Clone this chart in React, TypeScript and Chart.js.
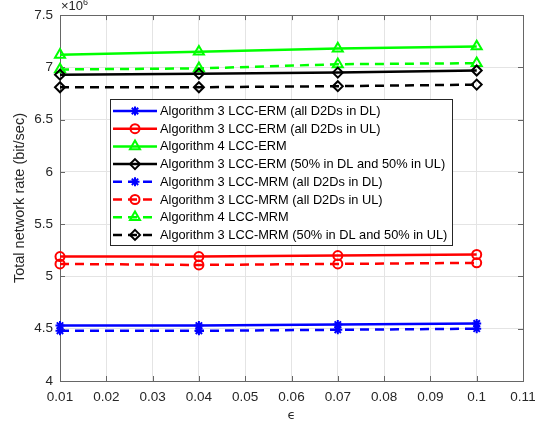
import React, { useEffect, useRef } from 'react';
import { Chart, registerables } from 'chart.js';

Chart.register(...registerables);

const FONT = '"Liberation Sans", Arial, Helvetica, sans-serif';

// epsilon values (x axis)
const EPSILON = [0.01, 0.04, 0.07, 0.1];
// total network rate, in units of 10^6 bit/sec
const Y_EXPONENT = 6;
const ALG3_ERM_DL = [4.53, 4.53, 4.54, 4.55];
const ALG3_ERM_UL = [5.19, 5.19, 5.2, 5.21];
const ALG4_ERM = [7.12, 7.15, 7.18, 7.2];
const ALG3_ERM_MIX = [6.93, 6.94, 6.95, 6.97];
const ALG3_MRM_DL = [4.48, 4.48, 4.49, 4.5];
const ALG3_MRM_UL = [5.12, 5.11, 5.12, 5.13];
const ALG4_MRM = [6.98, 6.99, 7.03, 7.04];
const ALG3_MRM_MIX = [6.81, 6.81, 6.82, 6.835];

const LABELS = [
  'Algorithm 3 LCC-ERM (all D2Ds in DL)',
  'Algorithm 3 LCC-ERM (all D2Ds in UL)',
  'Algorithm 4 LCC-ERM',
  'Algorithm 3 LCC-ERM (50% in DL and 50% in UL)',
  'Algorithm 3 LCC-MRM (all D2Ds in DL)',
  'Algorithm 3 LCC-MRM (all D2Ds in UL)',
  'Algorithm 4 LCC-MRM',
  'Algorithm 3 LCC-MRM (50% in DL and 50% in UL)',
];
const SERIES = [
  ALG3_ERM_DL, ALG3_ERM_UL, ALG4_ERM, ALG3_ERM_MIX,
  ALG3_MRM_DL, ALG3_MRM_UL, ALG4_MRM, ALG3_MRM_MIX,
];
const COLORS = ['#0000ff', '#ff0000', '#00ff00', '#000000', '#0000ff', '#ff0000', '#00ff00', '#000000'];
const MARKERS = ['star', 'circle', 'triangle', 'rectRot', 'star', 'circle', 'triangle', 'rectRot'];
const MARKER_SIZE: Record<string, number> = { star: 4.5, circle: 4.5, triangle: 5.8, rectRot: 5 };
const DASHED = [false, false, false, false, true, true, true, true];

function drawMarker(ctx: CanvasRenderingContext2D, style: string, x: number, y: number, r: number) {
  ctx.beginPath();
  if (style === 'circle') {
    ctx.arc(x, y, r, 0, Math.PI * 2);
  } else if (style === 'triangle') {
    for (let i = 0; i < 3; i++) {
      const a = (i * 2 * Math.PI) / 3;
      const px = x + Math.sin(a) * r;
      const py = y - Math.cos(a) * r;
      if (i === 0) ctx.moveTo(px, py);
      else ctx.lineTo(px, py);
    }
    ctx.closePath();
  } else if (style === 'rectRot') {
    ctx.moveTo(x, y - r);
    ctx.lineTo(x + r, y);
    ctx.lineTo(x, y + r);
    ctx.lineTo(x - r, y);
    ctx.closePath();
  } else if (style === 'star') {
    const d = Math.cos(Math.PI / 4) * r;
    ctx.moveTo(x, y - r); ctx.lineTo(x, y + r);
    ctx.moveTo(x - r, y); ctx.lineTo(x + r, y);
    ctx.moveTo(x - d, y - d); ctx.lineTo(x + d, y + d);
    ctx.moveTo(x - d, y + d); ctx.lineTo(x + d, y - d);
  }
  ctx.stroke();
}

const axesBoxPlugin = {
  id: 'axesBox',
  beforeDatasetsDraw(chart: any) {
    const { ctx, chartArea } = chart;
    const { left, right, top, bottom } = chartArea;
    const xs = chart.scales.x;
    const ys = chart.scales.y;
    const tl = 5;
    ctx.save();
    ctx.strokeStyle = '#666666';
    ctx.lineWidth = 1;
    ctx.setLineDash([]);
    ctx.strokeRect(Math.round(left) + 0.5, Math.round(top) + 0.5, Math.round(right - left), Math.round(bottom - top));
    ctx.beginPath();
    xs.ticks.forEach((t: any) => {
      const px = Math.round(xs.getPixelForValue(t.value)) + 0.5;
      ctx.moveTo(px, bottom); ctx.lineTo(px, bottom - tl);
      ctx.moveTo(px, top); ctx.lineTo(px, top + tl);
    });
    ys.ticks.forEach((t: any) => {
      const py = Math.round(ys.getPixelForValue(t.value)) + 0.5;
      ctx.moveTo(left, py); ctx.lineTo(left + tl, py);
      ctx.moveTo(right, py); ctx.lineTo(right - tl, py);
    });
    ctx.stroke();
    ctx.restore();
  },
  afterDraw(chart: any) {
    const { ctx, chartArea } = chart;
    ctx.save();
    ctx.fillStyle = '#262626';
    ctx.textAlign = 'left';
    ctx.textBaseline = 'alphabetic';
    ctx.font = `13px ${FONT}`;
    const base = '\u00d710';
    ctx.fillText(base, chartArea.left + 1, chartArea.top - 5);
    const w = ctx.measureText(base).width;
    ctx.font = `9px ${FONT}`;
    ctx.fillText(String(Y_EXPONENT), chartArea.left + 1 + w, chartArea.top - 10);
    ctx.restore();
  },
};

const boxLegendPlugin = {
  id: 'boxLegend',
  afterDatasetsDraw(chart: any) {
    const { ctx, chartArea } = chart;
    const x0 = Math.round(chartArea.left + 50);
    const y0 = Math.round(chartArea.top + 84);
    const w = 342;
    const h = 146;
    ctx.save();
    ctx.fillStyle = '#ffffff';
    ctx.fillRect(x0, y0, w, h);
    ctx.strokeStyle = '#262626';
    ctx.lineWidth = 1;
    ctx.setLineDash([]);
    ctx.strokeRect(x0 + 0.5, y0 + 0.5, w, h);
    chart.data.datasets.forEach((ds: any, i: number) => {
      const cy = y0 + 12 + i * 17.7;
      ctx.strokeStyle = ds.borderColor;
      ctx.lineWidth = ds.borderWidth;
      ctx.setLineDash(ds.borderDash || []);
      ctx.beginPath();
      ctx.moveTo(x0 + 3, cy);
      ctx.lineTo(x0 + 47, cy);
      ctx.stroke();
      ctx.setLineDash([]);
      ctx.lineWidth = ds.pointBorderWidth;
      drawMarker(ctx, ds.pointStyle, x0 + 25, cy, ds.pointRadius);
      ctx.fillStyle = '#000000';
      ctx.font = `12.8px ${FONT}`;
      ctx.textAlign = 'left';
      ctx.textBaseline = 'middle';
      ctx.fillText(ds.label, x0 + 50, cy + 0.5);
    });
    ctx.restore();
  },
};

export default function App() {
  const canvasRef = useRef<HTMLCanvasElement | null>(null);

  useEffect(() => {
    const canvas = canvasRef.current;
    if (!canvas) return;
    const datasets = SERIES.map((values, i) => ({
      label: LABELS[i],
      data: EPSILON.map((x, j) => ({ x, y: values[j] })),
      borderColor: COLORS[i],
      backgroundColor: COLORS[i],
      borderWidth: 2.5,
      borderDash: DASHED[i] ? [9, 6] : [],
      pointStyle: MARKERS[i],
      pointRadius: MARKER_SIZE[MARKERS[i]],
      pointBorderWidth: 2,
      pointBorderColor: COLORS[i],
      pointBackgroundColor: 'rgba(0,0,0,0)',
      fill: false,
      tension: 0,
      clip: false as any,
    }));
    const chart = new Chart(canvas, {
      type: 'line',
      data: { datasets },
      plugins: [axesBoxPlugin, boxLegendPlugin],
      options: {
        animation: false,
        responsive: false,
        devicePixelRatio: 1,
        layout: { padding: { left: 0, top: 15, right: 27, bottom: 0 } },
        plugins: {
          legend: { display: false },
          tooltip: { enabled: false },
        },
        scales: {
          x: {
            type: 'linear',
            min: 0.01,
            max: 0.11,
            afterFit: (s: any) => { s.height = 46; },
            ticks: {
              stepSize: 0.01,
              autoSkip: false,
              maxRotation: 0,
              color: '#262626',
              padding: 8,
              font: { family: FONT, size: 13.5 },
              callback: (v: any) => String(Number(Number(v).toFixed(2))),
            },
            grid: { color: '#e4e4e4', lineWidth: 1, drawTicks: false },
            border: { display: false },
            title: {
              display: true,
              text: '\u03f5',
              color: '#262626',
              font: { family: '"DejaVu Sans", sans-serif', size: 13 },
              padding: { top: 0, bottom: 4 },
            },
          },
          y: {
            type: 'linear',
            min: 4,
            max: 7.5,
            afterFit: (s: any) => { s.width = 60; },
            ticks: {
              stepSize: 0.5,
              color: '#262626',
              padding: 7,
              font: { family: FONT, size: 13.5 },
              callback: (v: any) => String(Number(Number(v).toFixed(1))),
            },
            grid: { color: '#e4e4e4', lineWidth: 1, drawTicks: false },
            border: { display: false },
            title: {
              display: true,
              text: 'Total network rate (bit/sec)',
              color: '#262626',
              font: { family: FONT, size: 14.5 },
              padding: { top: 11, bottom: 0 },
            },
          },
        },
      },
    });
    return () => chart.destroy();
  }, []);

  return (
    <div style={{ position: 'fixed', left: 0, top: 0, width: 535, height: 427, overflow: 'hidden', background: '#ffffff' }}>
      <canvas ref={canvasRef} width={550} height={427} style={{ width: 550, height: 427, display: 'block' }} />
    </div>
  );
}
